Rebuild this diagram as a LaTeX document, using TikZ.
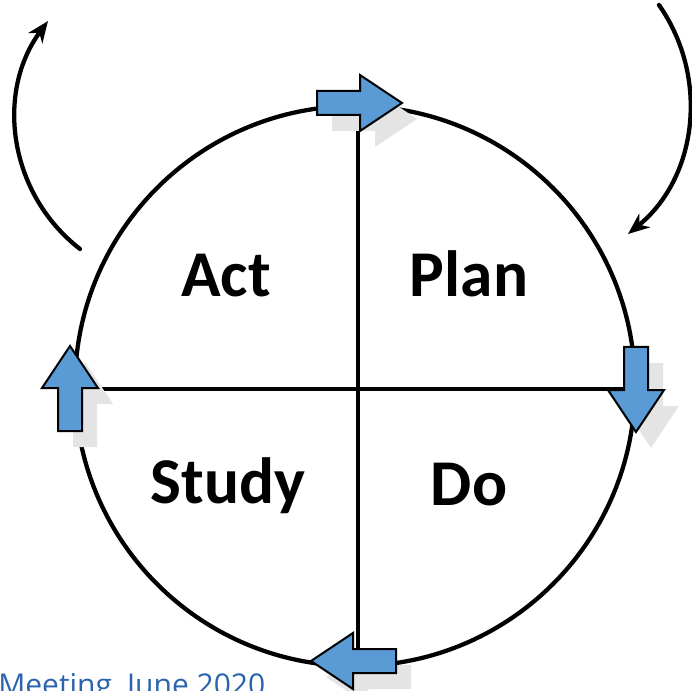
\documentclass[tikz,border=0pt]{standalone}
\usepackage{fontspec}
\setmainfont{Carlito}
\newfontfamily\footfont{Open Sans}
\usetikzlibrary{arrows.meta}
\definecolor{pdsablue}{HTML}{5B9BD5}
\definecolor{pdsashadow}{HTML}{E4E4E4}
\definecolor{footblue}{HTML}{2A64AC}
\tikzset{
  ring/.style={line width=3.2pt},
  turn/.style={line width=3.2pt, line cap=round, -{Stealth[length=16pt,width=13pt,inset=5pt]}},
  blockarrow/.style={fill=pdsablue, draw=black, line width=1.5pt, line join=miter},
  phase/.style={font=\fontsize{49}{49}\selectfont\bfseries, anchor=base, inner sep=0pt}
}
\begin{document}
\begin{tikzpicture}[x=0.75pt, y=-0.75pt]
\useasboundingbox (0,0) rectangle (692,691);
% ring and quarters
\coordinate (hub) at (355,386);
\coordinate (N) at (358,106);
\coordinate (S) at (358,666);
\coordinate (W) at (75,389);
\coordinate (E) at (635,389);
\draw[ring] (hub) circle (280);
\draw[ring] (N) -- (S);
\draw[ring] (W) -- (E);
% phases
\node[phase] (act) at (226,297) {Act};
\node[phase] (plan) at (469,297) {Plan};
\node[phase] (study) at (228,503) {Study};
\node[phase] (do) at (469,505) {Do};
% block arrows round the ring
\foreach \px/\py/\ang in {360/103/0, 636/390/-90, 353/661/180, 70/388/90}{
  \fill[pdsashadow, shift={(\px+15,\py+16)}, rotate=\ang] (-43,-12) -- (0,-12) -- (0,-28) -- (42,0) -- (0,28) -- (0,12) -- (-43,12) -- cycle;
  \draw[blockarrow, shift={(\px,\py)}, rotate=\ang] (-43,-12) -- (0,-12) -- (0,-28) -- (42,0) -- (0,28) -- (0,12) -- (-43,12) -- cycle;
}
% outer turns
\coordinate (actfrom) at (80,249);
\coordinate (actto) at (48,21);
\draw[turn] (actfrom) .. controls (9,194) and (-5,93) .. (actto);
\coordinate (planfrom) at (659,5);
\coordinate (planto) at (628,234);
\draw[turn] (planfrom) .. controls (710,78) and (697,178) .. (planto);
% footer
\node[anchor=base west, text=footblue, font=\footfont\fontsize{22.5}{22.5}\selectfont, inner sep=0pt] (meeting) at (-2,695) {Meeting, June 2020};
\end{tikzpicture}
\end{document}
